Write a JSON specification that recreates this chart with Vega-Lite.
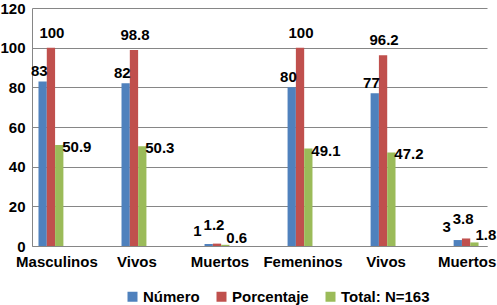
{
  "$schema": "https://vega.github.io/schema/vega-lite/v6.json",
  "autosize": "none",
  "width": 455,
  "height": 238,
  "padding": {"left": 32, "top": 8, "right": 10, "bottom": 59},
  "background": "white",
  "config": {
    "view": {"stroke": null},
    "font": "Liberation Sans",
    "text": {"font": "Liberation Sans", "fontWeight": "bold", "fontSize": 15, "color": "#000000"}
  },
  "data": {
    "values": [
      {"grupo": "1|Masculinos", "serie": "Número", "valor": 83},
      {"grupo": "1|Masculinos", "serie": "Porcentaje", "valor": 100},
      {"grupo": "1|Masculinos", "serie": "Total: N=163", "valor": 50.9},
      {"grupo": "2|Vivos", "serie": "Número", "valor": 82},
      {"grupo": "2|Vivos", "serie": "Porcentaje", "valor": 98.8},
      {"grupo": "2|Vivos", "serie": "Total: N=163", "valor": 50.3},
      {"grupo": "3|Muertos", "serie": "Número", "valor": 1},
      {"grupo": "3|Muertos", "serie": "Porcentaje", "valor": 1.2},
      {"grupo": "3|Muertos", "serie": "Total: N=163", "valor": 0.6},
      {"grupo": "4|Femeninos", "serie": "Número", "valor": 80},
      {"grupo": "4|Femeninos", "serie": "Porcentaje", "valor": 100},
      {"grupo": "4|Femeninos", "serie": "Total: N=163", "valor": 49.1},
      {"grupo": "5|Vivos", "serie": "Número", "valor": 77},
      {"grupo": "5|Vivos", "serie": "Porcentaje", "valor": 96.2},
      {"grupo": "5|Vivos", "serie": "Total: N=163", "valor": 47.2},
      {"grupo": "6|Muertos", "serie": "Número", "valor": 3},
      {"grupo": "6|Muertos", "serie": "Porcentaje", "valor": 3.8},
      {"grupo": "6|Muertos", "serie": "Total: N=163", "valor": 1.8}
    ]
  },
  "encoding": {
    "x": {
      "field": "grupo",
      "type": "nominal",
      "sort": null,
      "scale": {"paddingInner": 0.7, "paddingOuter": 0.09, "align": 0.434},
      "axis": {
        "title": null,
        "labelAngle": 0,
        "labelExpr": "split(datum.value, '|')[1]",
        "labelFont": "Liberation Sans",
        "labelFontWeight": "bold",
        "labelFontSize": 15,
        "labelColor": "#000000",
        "labelPadding": 8,
        "labelOffset": {"condition": [{"test": "datum.index === 0", "value": 6}, {"test": "datum.index === 1", "value": 1}], "value": 3},
        "labelBound": false,
        "labelFlush": false,
        "ticks": false,
        "domainColor": "#868686",
        "domainWidth": 1,
        "grid": false
      }
    },
    "xOffset": {
      "field": "serie",
      "type": "nominal",
      "sort": ["Número", "Porcentaje", "Total: N=163"],
      "scale": {"paddingInner": 0, "paddingOuter": 0}
    },
    "y": {
      "field": "valor",
      "type": "quantitative",
      "scale": {"domain": [0, 120], "nice": false},
      "axis": {
        "title": null,
        "values": [0, 20, 40, 60, 80, 100, 120],
        "labelFont": "Liberation Sans",
        "labelFontWeight": "bold",
        "labelFontSize": 15,
        "labelColor": "#000000",
        "labelPadding": 7,
        "labelDy": -3,
        "ticks": false,
        "domainColor": "#868686",
        "gridColor": "#868686",
        "gridWidth": 1
      }
    }
  },
  "layer": [
    {
      "mark": {"type": "bar"},
      "encoding": {
        "color": {
          "field": "serie",
          "type": "nominal",
          "sort": ["Número", "Porcentaje", "Total: N=163"],
          "scale": {"domain": ["Número", "Porcentaje", "Total: N=163"], "range": ["#4F81BD", "#C0504D", "#9BBB59"]},
          "legend": {
            "title": null,
            "orient": "none",
            "direction": "horizontal",
            "legendX": 93,
            "legendY": 281,
            "padding": 0,
            "symbolType": "square",
            "symbolSize": 100,
            "symbolStrokeWidth": 0,
            "labelFont": "Liberation Sans",
            "labelFontWeight": "bold",
            "labelFontSize": 15,
            "labelColor": "#000000",
            "labelOffset": 3,
            "columnPadding": 14
          }
        }
      }
    },
    {
      "transform": [{"filter": "datum.serie === 'Número' && datum.valor >= 10"}],
      "mark": {"type": "text", "align": "right", "baseline": "alphabetic", "dx": 5, "dy": -5},
      "encoding": {"text": {"field": "valor", "type": "quantitative"}}
    },
    {
      "transform": [{"filter": "datum.serie === 'Número' && datum.valor < 10"}],
      "mark": {"type": "text", "align": "right", "baseline": "alphabetic", "dx": -7, "dy": -8},
      "encoding": {"text": {"field": "valor", "type": "quantitative"}}
    },
    {
      "transform": [{"filter": "datum.serie === 'Porcentaje' && datum.valor >= 10"}],
      "mark": {"type": "text", "align": "center", "baseline": "alphabetic", "dx": 1, "dy": -10},
      "encoding": {"text": {"field": "valor", "type": "quantitative"}}
    },
    {
      "transform": [{"filter": "datum.serie === 'Porcentaje' && datum.valor < 10"}],
      "mark": {"type": "text", "align": "center", "baseline": "alphabetic", "dx": -3, "dy": -14},
      "encoding": {"text": {"field": "valor", "type": "quantitative"}}
    },
    {
      "transform": [{"filter": "datum.serie === 'Total: N=163' && datum.valor >= 10"}],
      "mark": {"type": "text", "align": "left", "baseline": "alphabetic", "dx": 3, "dy": 7},
      "encoding": {"text": {"field": "valor", "type": "quantitative"}}
    },
    {
      "transform": [{"filter": "datum.serie === 'Total: N=163' && datum.valor < 10"}],
      "mark": {"type": "text", "align": "left", "baseline": "alphabetic", "dx": 1, "dy": -2},
      "encoding": {"text": {"field": "valor", "type": "quantitative"}}
    }
  ]
}
